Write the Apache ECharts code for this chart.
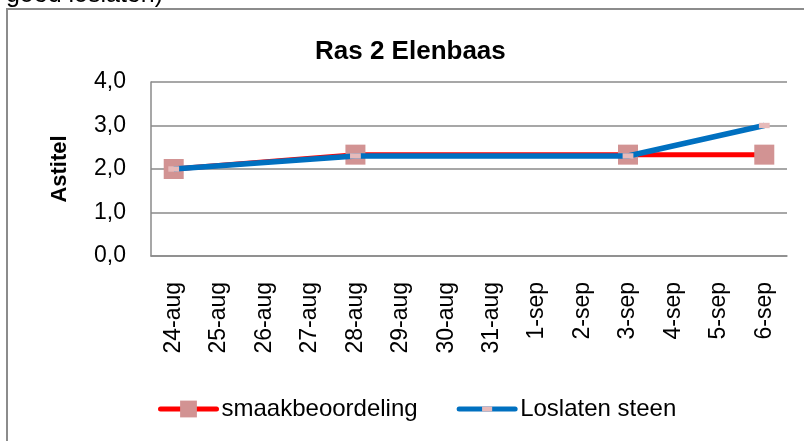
<!DOCTYPE html>
<html>
<head>
<meta charset="utf-8">
<script src="https://cdn.jsdelivr.net/npm/echarts@6/dist/echarts.min.js"></script>
<style>
html,body{margin:0;padding:0;background:#fff;}
#c{width:804px;height:441px;}
</style>
</head>
<body>
<div id="c"></div>
<script>
const categories = ['24-aug','25-aug','26-aug','27-aug','28-aug','29-aug','30-aug','31-aug','1-sep','2-sep','3-sep','4-sep','5-sep','6-sep'];
const smaakbeoordeling = [2.0, null, null, null, 2.33, null, null, null, null, null, 2.33, null, null, 2.33];
const loslatenSteen = [2.0, null, null, null, 2.3, null, null, null, null, null, 2.3, null, null, 3.0];
const yTicks = [0, 1, 2, 3, 4];

const FONT = 'Liberation Sans';
const chart = echarts.init(document.getElementById('c'), null, {renderer: 'canvas'});
chart.setOption({
  animation: false,
  backgroundColor: '#fff',
  textStyle: {fontFamily: FONT},
  graphic: [
    {type: 'rect', shape: {x: 7, y: 9, width: 800, height: 440}, style: {fill: 'none', stroke: '#8c8c8c', lineWidth: 2}, silent: true},
    {type: 'text', x: 163, y: 8, style: {text: 'goed loslaten)', font: '25px "Liberation Sans"', fill: '#000', align: 'right', verticalAlign: 'bottom'}}
  ],
  title: {
    text: 'Ras 2 Elenbaas',
    left: 315,
    top: 39,
    padding: 0,
    textStyle: {fontFamily: FONT, fontSize: 26, fontWeight: 'bold', color: '#000'}
  },
  legend: {
    left: 158,
    top: 397,
    padding: 0,
    itemWidth: 56,
    itemHeight: 21,
    itemGap: 39,
    textStyle: {fontFamily: FONT, fontSize: 24, color: '#000'},
    data: [
      {name: 'smaakbeoordeling', lineStyle: {width: 5, cap: 'round'}},
      {name: 'Loslaten steen', lineStyle: {width: 5, cap: 'round'}}
    ]
  },
  grid: {left: 151, right: 17, top: 82, bottom: 185, containLabel: false},
  xAxis: {
    type: 'category',
    data: categories,
    boundaryGap: true,
    axisLine: {lineStyle: {color: '#8a8a8a', width: 1.5}},
    axisTick: {show: false},
    axisLabel: {rotate: 90, margin: 26, interval: 0, fontFamily: FONT, fontSize: 23, color: '#000'}
  },
  yAxis: {
    type: 'value',
    min: yTicks[0],
    max: yTicks[yTicks.length - 1],
    interval: 1,
    name: 'Astitel',
    nameLocation: 'middle',
    nameGap: 80,
    nameTextStyle: {fontFamily: FONT, fontSize: 22, fontWeight: 'bold', color: '#000'},
    axisLine: {show: true, lineStyle: {color: '#8a8a8a', width: 1.5}},
    axisTick: {show: false},
    splitLine: {lineStyle: {color: '#8a8a8a', width: 1.5}},
    axisLabel: {margin: 25, fontFamily: FONT, fontSize: 23, color: '#000',
      formatter: v => v.toFixed(1).replace('.', ',')}
  },
  series: [
    {
      name: 'smaakbeoordeling',
      type: 'line',
      data: smaakbeoordeling,
      connectNulls: true,
      showAllSymbol: true,
      symbol: 'rect',
      symbolSize: 20,
      itemStyle: {color: '#d29393'},
      lineStyle: {color: '#ff0000', width: 5},
      z: 2
    },
    {
      name: 'Loslaten steen',
      type: 'line',
      data: loslatenSteen,
      connectNulls: true,
      showAllSymbol: true,
      symbol: 'path://M0,0M100,100M20,35h60v30h-60z',
      symbolSize: 18,
      itemStyle: {color: '#e6baba'},
      lineStyle: {color: '#0070c0', width: 5.5},
      z: 3
    }
  ]
});
</script>
</body>
</html>
